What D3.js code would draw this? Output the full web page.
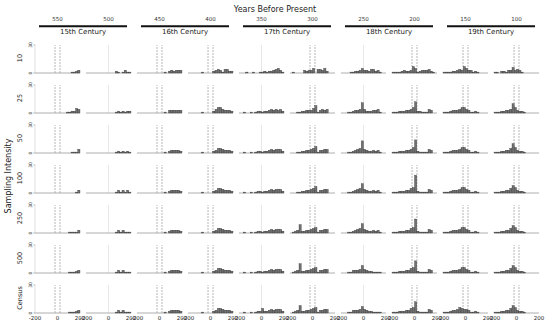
<!DOCTYPE html>
<html><head><meta charset="utf-8">
<script src="https://cdn.jsdelivr.net/npm/d3@7"></script>
<style>body{margin:0;background:#fff}svg{display:block;font-family:"DejaVu Sans",Verdana,sans-serif}</style>
</head><body><svg id="c" width="550" height="323"></svg>
<script>
const yearLabels = ["550","500","450","400","350","300","250","200","150","100"];
const centuries = ["15th Century","16th Century","17th Century","18th Century","19th Century"];
const rowLabels = ["10","25","50","100","250","500","Census"];
const refLines = ["pair","single","pair","pair","single","pair","single","pair","pair","pair"];
const binStarts = d3.range(-200, 200, 20);
const xTicks = [-200, 0, 200];
const yTicks = [0, 30];
// counts per bin (20 bins of width 20 from -200 to 200), rows x columns
const row10 = [
 [0,0,0,0,0,0,0,0,0,0,0,0,0,0,0,0,1,1,2,3],
 [0,0,0,0,0,0,0,0,0,0,0,0,0,2,1,0,1,3,1,1],
 [0,0,0,0,0,0,0,0,0,0,0,0,1,0,2,3,2,3,3,3],
 [0,0,0,0,0,0,1,0,0,0,0,2,3,4,3,1,4,4,2,2],
 [0,0,0,1,0,0,1,0,0,1,1,2,1,2,2,3,4,5,3,1],
 [0,1,0,0,0,0,3,2,3,3,5,0,4,4,3,5,2,0,0,0],
 [0,0,0,0,1,1,2,2,3,5,3,3,2,4,4,2,3,1,0,0],
 [1,1,1,1,2,3,2,2,3,7,5,1,2,3,3,3,4,2,1,0],
 [1,1,1,1,2,2,3,4,3,7,5,3,3,1,2,1,0,0,0,0],
 [1,1,0,2,2,1,3,3,6,3,4,3,1,0,0,0,0,0,0,0]];
const row25 = [
 [0,0,0,0,0,0,0,0,0,0,0,0,0,0,1,1,2,2,5,4],
 [0,0,0,0,0,0,0,0,0,0,0,0,0,1,2,1,2,1,2,2],
 [0,0,0,0,0,0,0,0,0,0,0,0,1,0,3,3,3,3,3,3],
 [0,0,0,0,0,0,1,0,0,0,0,2,4,6,6,4,3,3,3,2],
 [0,0,1,0,0,1,0,1,2,2,1,2,2,3,4,3,4,3,4,2],
 [0,0,0,1,1,2,2,3,3,3,5,8,1,3,4,3,4,0,0,0],
 [0,0,0,1,1,2,3,3,4,11,4,2,2,2,3,3,4,1,0,0],
 [1,1,1,2,2,2,3,3,4,6,12,2,2,1,1,1,4,3,0,0],
 [1,1,1,2,3,3,3,4,6,6,4,3,1,1,2,1,0,0,0,0],
 [1,1,1,2,2,3,3,4,10,6,3,2,2,1,0,0,0,0,0,0]];
const row50 = [
 [0,0,0,0,0,0,0,0,0,0,0,0,0,0,0,0,1,1,1,4],
 [0,0,0,0,0,0,0,0,0,0,0,0,0,1,2,1,2,1,2,1],
 [0,0,0,0,0,0,0,0,0,0,0,0,1,0,2,3,3,3,3,2],
 [0,0,0,0,0,0,1,0,0,0,0,2,3,5,5,4,3,3,3,2],
 [0,0,1,0,0,1,0,1,2,2,1,2,2,3,4,3,4,4,4,2],
 [0,0,0,1,1,2,2,3,3,4,5,7,1,3,3,4,4,0,0,0],
 [0,0,0,1,1,2,3,4,5,13,4,3,2,2,3,2,3,1,0,0],
 [1,1,1,2,2,2,3,3,4,6,14,2,1,1,1,1,4,3,0,0],
 [1,1,1,2,3,3,3,4,6,6,4,3,1,1,2,1,0,0,0,0],
 [1,1,1,2,2,3,3,5,10,6,3,2,2,1,0,0,0,0,0,0]];
const row100 = [
 [0,0,0,0,0,0,0,0,0,0,0,0,0,0,0,0,0,0,1,3],
 [0,0,0,0,0,0,0,0,0,0,0,0,0,1,3,1,3,1,3,1],
 [0,0,0,0,0,0,0,0,0,0,0,0,1,0,2,3,3,3,3,2],
 [0,0,0,0,0,0,1,0,0,0,0,2,3,5,5,4,3,3,3,2],
 [0,0,1,0,0,1,0,1,2,2,1,2,2,3,4,3,4,4,4,2],
 [0,0,0,1,1,2,2,3,3,4,5,7,1,3,3,4,4,0,0,0],
 [0,0,0,1,1,2,3,4,5,10,4,3,2,2,3,2,3,1,0,0],
 [1,1,1,2,2,2,3,3,5,6,19,2,1,1,1,1,4,3,0,0],
 [1,1,1,2,3,3,3,4,6,6,4,3,1,1,2,1,0,0,0,0],
 [1,1,1,2,2,3,3,5,8,6,3,2,2,1,0,0,0,0,0,0]];
const row250 = [
 [0,0,0,0,0,0,0,0,0,0,0,0,0,0,0,1,1,1,1,3],
 [0,0,0,0,0,0,0,0,0,0,0,0,0,1,3,1,3,1,1,1],
 [0,0,0,0,0,0,0,0,0,0,0,0,1,0,2,3,3,3,3,2],
 [0,0,0,0,0,0,1,0,0,0,0,2,3,5,5,4,3,3,3,2],
 [0,0,1,0,0,1,0,1,2,2,1,2,2,3,4,3,4,4,4,2],
 [0,1,2,3,9,2,2,3,3,4,5,6,1,3,3,4,4,0,0,0],
 [0,0,0,1,1,2,3,4,5,10,4,3,2,2,3,2,3,1,0,0],
 [1,1,1,2,2,2,3,3,5,6,15,2,1,1,1,1,4,3,0,0],
 [1,1,1,2,3,3,3,4,6,6,4,3,1,1,2,1,0,0,0,0],
 [1,1,1,2,2,3,3,5,8,6,3,2,2,1,0,0,0,0,0,0]];
const row500 = [
 [0,0,0,0,0,0,0,0,0,0,0,0,0,0,0,1,1,1,2,3],
 [0,0,0,0,0,0,0,0,0,0,0,0,0,1,3,1,3,1,1,1],
 [0,0,0,0,0,0,0,0,0,0,0,0,1,0,2,3,3,3,3,2],
 [0,0,0,0,0,0,1,0,0,0,0,2,3,5,5,4,3,3,3,2],
 [0,0,1,0,0,1,0,1,2,2,1,2,2,3,4,3,4,4,4,2],
 [0,1,2,3,10,2,2,3,3,4,5,6,1,3,3,4,4,0,0,0],
 [0,0,0,1,1,3,3,3,4,8,4,3,2,2,1,1,1,1,0,0],
 [1,1,1,2,2,2,3,3,5,6,13,2,1,1,1,1,4,3,0,0],
 [1,1,1,2,3,3,3,4,6,6,4,3,1,1,2,1,0,0,0,0],
 [1,1,1,2,2,3,3,5,8,6,3,2,2,1,0,0,0,0,0,0]];
const rowCensus = [
 [0,0,0,0,0,0,0,0,0,0,0,0,0,0,0,1,1,1,2,3],
 [0,0,0,0,0,0,0,0,0,0,0,0,0,1,3,1,3,1,1,1],
 [0,0,0,0,0,0,0,0,0,0,0,0,1,0,2,3,3,3,3,2],
 [0,0,0,0,0,0,1,0,0,0,0,2,3,5,5,4,3,3,3,2],
 [0,0,1,0,0,1,0,1,2,2,5,2,2,3,4,3,4,4,4,2],
 [0,1,2,3,8,2,2,3,3,4,5,6,1,3,3,4,4,0,0,0],
 [0,0,0,1,1,3,3,3,4,7,4,3,2,2,1,1,1,1,0,0],
 [1,1,1,2,2,2,3,3,5,6,12,2,1,1,1,1,4,3,0,0],
 [1,1,1,2,3,3,4,6,5,4,4,3,1,1,2,1,0,0,0,0],
 [1,1,1,2,2,3,3,5,8,6,3,2,2,1,0,0,0,0,0,0]];
const allRows = [row10,row25,row50,row100,row250,row500,rowCensus];

const svg = d3.select("#c");
const colX = d3.scaleBand().domain(d3.range(10)).range([35,539]).paddingInner(0.1176).paddingOuter(0);
const rowY = d3.scalePoint().domain(d3.range(7)).range([73,313]);
const x = d3.scaleLinear().domain([-200,200]).range([0,colX.bandwidth()]);
const y = d3.scaleLinear().domain([0,30]).range([0,-28]);

svg.append("text").attr("x",275).attr("y",12).attr("text-anchor","middle")
  .attr("font-size",8).attr("fill","#222").text("Years Before Present");
yearLabels.forEach((t,i)=>{
  svg.append("text").attr("x",colX(i)+x(0)).attr("y",21).attr("text-anchor","middle")
    .attr("font-size",5.5).attr("fill","#333").text(t);
});
centuries.forEach((t,k)=>{
  const x0 = colX(2*k)+4, x1 = colX(2*k+1)+colX.bandwidth()-4;
  svg.append("line").attr("x1",x0).attr("x2",x1).attr("y1",26.3).attr("y2",26.3)
    .attr("stroke","#111").attr("stroke-width",2);
  svg.append("text").attr("x",(x0+x1)/2).attr("y",34).attr("text-anchor","middle")
    .attr("font-size",7).attr("fill","#222").text(t);
});
svg.append("text").attr("transform","translate(11,176) rotate(-90)").attr("text-anchor","middle")
  .attr("font-size",8).attr("fill","#222").text("Sampling Intensity");

allRows.forEach((rowData,r)=>{
  const by = rowY(r);
  svg.append("text").attr("transform",`translate(22,${by-15}) rotate(-90)`).attr("text-anchor","middle")
    .attr("font-size",6.5).attr("fill","#222").text(rowLabels[r]);
  const ya = svg.append("g").attr("transform",`translate(${colX(0)},${by})`);
  ya.append("line").attr("y1",y(0)).attr("y2",y(30)).attr("stroke","#ccc").attr("stroke-width",0.6);
  yTicks.forEach(t=>{
    ya.append("line").attr("x1",-1.5).attr("x2",0).attr("y1",y(t)).attr("y2",y(t)).attr("stroke","#888").attr("stroke-width",0.6);
    ya.append("text").attr("transform",`translate(-3,${y(t)}) rotate(-90)`).attr("text-anchor","middle")
      .attr("font-size",4.5).attr("fill","#333").text(t);
  });
  rowData.forEach((counts,c)=>{
    const g = svg.append("g").attr("transform",`translate(${colX(c)},${by})`);
    if(refLines[c]==="pair"){
      [-22,22].forEach(v=>g.append("line").attr("x1",x(v)).attr("x2",x(v)).attr("y1",y(0)).attr("y2",y(30))
        .attr("stroke","#999").attr("stroke-width",0.7).attr("stroke-dasharray","2,1"));
    } else {
      g.append("line").attr("x1",x(0)).attr("x2",x(0)).attr("y1",y(0)).attr("y2",y(30))
        .attr("stroke","#ddd").attr("stroke-width",0.7);
    }
    g.append("line").attr("x1",0).attr("x2",colX.bandwidth()).attr("y1",0).attr("y2",0)
      .attr("stroke","#999").attr("stroke-width",0.8);
    g.selectAll("rect").data(binStarts.map((b,i)=>({b,v:counts[i]})).filter(d=>d.v>0)).join("rect")
      .attr("x",d=>x(d.b)).attr("width",x(20)-x(0)).attr("y",d=>y(d.v)).attr("height",d=>-y(d.v))
      .attr("fill","#707070").attr("stroke","#2a2a2a").attr("stroke-width",0.3);
    if(r===6){
      xTicks.forEach(t=>g.append("text").attr("x",x(t)).attr("y",320).attr("transform",`translate(0,${-by})`)
        .attr("text-anchor","middle").attr("font-size",5.5).attr("fill","#222").text(String(t)));
    }
  });
});
</script></body></html>
